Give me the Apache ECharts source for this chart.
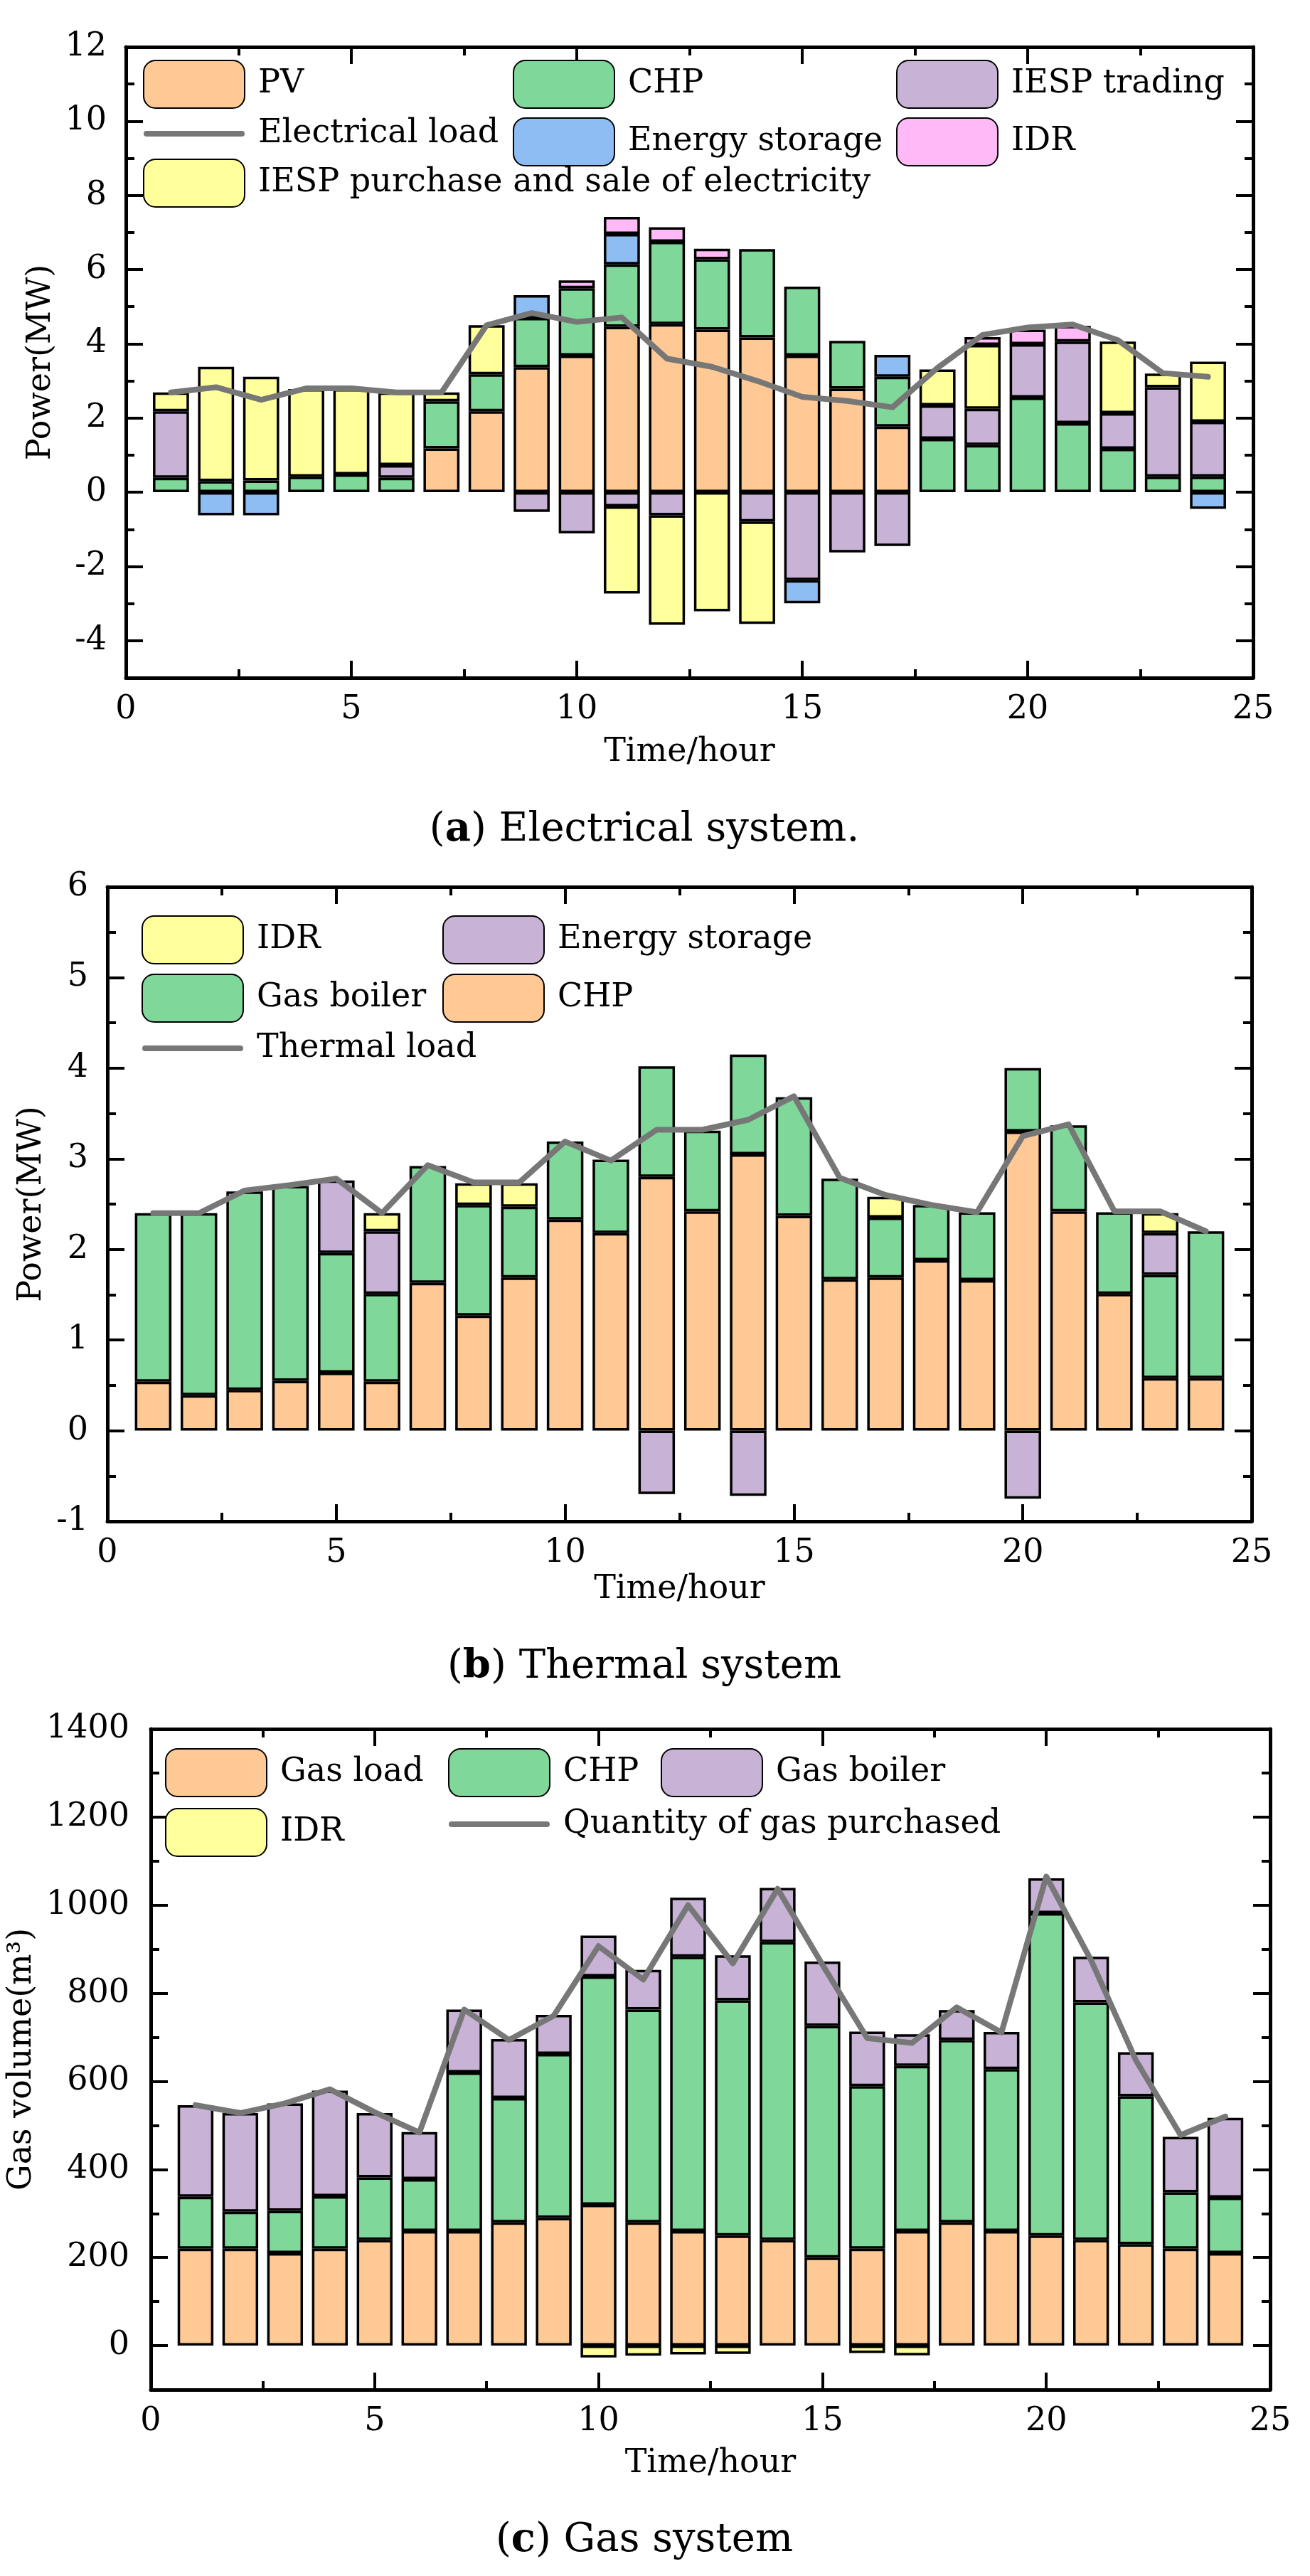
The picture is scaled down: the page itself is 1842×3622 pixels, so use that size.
<!DOCTYPE html>
<html>
<head>
<meta charset="utf-8">
<script src="https://cdn.jsdelivr.net/npm/echarts@6/dist/echarts.min.js"></script>
<style>
html, body { margin: 0; padding: 0; background: #fff; }
#wrap { position: relative; width: 1842px; height: 3622px; }
.panel { position: absolute; left: 0; width: 1842px; }
</style>
</head>
<body>
<div id="wrap">
  <div id="chartA" class="panel" style="top:0;height:1215px"></div>
  <div id="chartB" class="panel" style="top:1215px;height:1185px"></div>
  <div id="chartC" class="panel" style="top:2400px;height:1222px"></div>
</div>
<script>
var FONT = 'DejaVu Serif';

// hours on the x axis
var hours = [1, 2, 3, 4, 5, 6, 7, 8, 9, 10, 11, 12, 13, 14, 15, 16, 17, 18, 19, 20, 21, 22, 23, 24];

// (a) electrical system, MW
var elecPV       = [0, 0, 0, 0, 0, 0, 1.18, 2.18, 3.37, 3.68, 4.46, 4.53, 4.38, 4.17, 3.68, 2.79, 1.77, 0, 0, 0, 0, 0, 0, 0];
var elecCHP      = [0.39, 0.30, 0.32, 0.42, 0.48, 0.39, 1.27, 1.00, 1.33, 1.82, 1.68, 2.22, 1.90, 2.38, 1.86, 1.29, 1.34, 1.44, 1.27, 2.55, 1.86, 1.17, 0.42, 0.42];
var elecStorage  = [0, -0.62, -0.62, 0, 0, 0, 0, 0, 0.61, 0, 0.82, 0, 0, 0, -0.62, 0, 0.59, 0, 0, 0, 0, 0, 0, -0.45];
var elecTrading  = [1.79, 0, 0, 0, 0, 0.34, 0, 0, -0.53, -1.11, -0.38, -0.62, 0, -0.79, -2.37, -1.62, -1.45, 0.90, 0.98, 1.44, 2.20, 0.96, 2.41, 1.48];
var elecPurchase = [0.51, 3.08, 2.79, 2.36, 2.30, 1.96, 0.24, 1.32, 0, 0, -2.35, -2.95, -3.21, -2.76, 0, 0, 0, 0.97, 1.72, 0, 0, 1.93, 0.37, 1.62];
var elecIDR      = [0, 0, 0, 0, 0, 0, 0, 0, 0, 0.21, 0.46, 0.39, 0.28, 0, 0, 0, 0, 0, 0.21, 0.39, 0.42, 0, 0, 0];
var elecLoad     = [2.69, 2.83, 2.49, 2.80, 2.80, 2.69, 2.69, 4.50, 4.83, 4.59, 4.71, 3.60, 3.38, 3.00, 2.57, 2.46, 2.29, 3.35, 4.24, 4.44, 4.52, 4.10, 3.21, 3.11];

// (b) thermal system, MW
var heatCHP     = [0.54, 0.39, 0.45, 0.55, 0.64, 0.54, 1.63, 1.27, 1.69, 2.33, 2.18, 2.80, 2.42, 3.05, 2.37, 1.67, 1.69, 1.88, 1.66, 3.30, 2.42, 1.51, 0.58, 0.58];
var heatBoiler  = [1.86, 2.01, 2.19, 2.15, 1.32, 0.97, 1.29, 1.22, 0.78, 0.86, 0.81, 1.22, 0.89, 1.10, 1.31, 1.11, 0.66, 0.61, 0.75, 0.70, 0.95, 0.90, 1.14, 1.62];
var heatStorage = [0, 0, 0, 0, 0.80, 0.69, 0, 0, 0, 0, 0, -0.70, 0, -0.72, 0, 0, 0, 0, 0, -0.75, 0, 0, 0.46, 0];
var heatIDR     = [0, 0, 0, 0, 0, 0.20, 0, 0.24, 0.26, 0, 0, 0, 0, 0, 0, 0, 0.23, 0, 0, 0, 0, 0, 0.22, 0];
var heatLoad    = [2.40, 2.40, 2.65, 2.71, 2.78, 2.40, 2.93, 2.74, 2.74, 3.19, 2.98, 3.32, 3.32, 3.43, 3.69, 2.79, 2.60, 2.49, 2.41, 3.25, 3.38, 2.42, 2.42, 2.20];

// (c) gas system, m3
var gasLoad      = [220, 220, 210, 220, 240, 260, 260, 280, 290, 320, 280, 260, 250, 240, 200, 220, 260, 280, 260, 250, 240, 230, 220, 210];
var gasCHP       = [118, 84, 96, 119, 142, 118, 360, 282, 372, 518, 483, 623, 534, 676, 526, 369, 375, 414, 368, 732, 539, 336, 128, 126];
var gasBoiler    = [208, 224, 244, 240, 146, 107, 143, 134, 89, 93, 90, 134, 102, 123, 146, 124, 72, 68, 84, 79, 104, 100, 126, 181];
var gasIDR       = [0, 0, 0, 0, 0, 0, 0, 0, 0, -27, -23, -20, -19, 0, 0, -17, -22, 0, 0, 0, 0, 0, 0, 0];
var gasPurchased = [546, 528, 550, 582, 530, 484, 763, 694, 749, 907, 831, 1000, 868, 1037, 865, 698, 687, 768, 711, 1065, 875, 648, 478, 520];

var C_ORANGE = '#FFC996', C_GREEN = '#7FD89A', C_BLUE = '#8DBDF3', C_PURPLE = '#C8B3D6',
    C_PINK = '#FEB9F6', C_YELLOW = '#FFFF9B', C_LINE = '#777777';

// category slots 0..25 so that hour h sits at h/25 of the plot width
var xCats = [0].concat(hours).concat([25]);

function pad(vals, dropZero) {
  var out = ['-'];
  vals.forEach(function (v) { out.push(dropZero && v === 0 ? '-' : v); });
  out.push('-');
  return out;
}
function onlyPos(vals) { return vals.map(function (v) { return v > 0 ? v : 0; }); }
function onlyNeg(vals) { return vals.map(function (v) { return v < 0 ? v : 0; }); }

function bar(name, vals, color) {
  return {
    type: 'bar', name: name, stack: 'total', xAxisIndex: 0, yAxisIndex: 0,
    barWidth: '80%', data: pad(vals, true),
    itemStyle: { color: color, borderColor: '#000', borderWidth: 3.5 },
    emphasis: { disabled: true }
  };
}
function loadLine(name, vals) {
  return {
    type: 'line', name: name, xAxisIndex: 0, yAxisIndex: 0, data: pad(vals, false),
    symbol: 'none', z: 5,
    lineStyle: { color: C_LINE, width: 8, cap: 'round', join: 'round' },
    itemStyle: { color: C_LINE },
    emphasis: { disabled: true }
  };
}

var TICK = { color: '#000', width: 4 };
var TXT = { fontFamily: FONT, fontSize: 46, color: '#000' };

function xAxes(nameGap) {
  function val(pos, withLabel) {
    var a = {
      type: 'value', position: pos, min: 0, max: 25, interval: 5,
      splitLine: { show: false },
      axisLine: { show: true, onZero: false, lineStyle: { color: '#000', width: 5 } },
      axisTick: { show: true, inside: true, length: 24, lineStyle: TICK },
      minorTick: { show: true, splitNumber: 2, length: 12, lineStyle: TICK },
      axisLabel: { show: withLabel, margin: 22, fontFamily: FONT, fontSize: 46, color: '#000' }
    };
    if (withLabel) {
      a.name = 'Time/hour';
      a.nameLocation = 'middle';
      a.nameGap = nameGap;
      a.nameTextStyle = TXT;
    }
    return a;
  }
  return [
    { type: 'category', data: xCats, boundaryGap: false, show: false },
    val('bottom', true),
    val('top', false)
  ];
}

function yAxes(o) {
  var majors = [];
  for (var v = o.firstMajor; v <= o.max; v += o.labelStep) majors.push(v);
  var split = o.labelStep === o.step;
  function side(pos, withLabel) {
    var a = {
      type: 'value', position: pos, min: o.min, max: o.max, interval: o.step,
      splitLine: { show: false },
      axisLine: { show: true, onZero: false, lineStyle: { color: '#000', width: 5 } },
      axisTick: { show: true, inside: true, length: split ? 24 : 12, lineStyle: TICK },
      minorTick: { show: split, splitNumber: 2, length: 12, lineStyle: TICK },
      axisLabel: {
        show: withLabel, margin: o.labelMargin, fontFamily: FONT, fontSize: 46, color: '#000',
        formatter: function (val) { return majors.indexOf(val) >= 0 ? String(val) : ''; }
      }
    };
    if (withLabel) {
      a.name = o.name;
      a.nameLocation = 'middle';
      a.nameGap = o.nameGap;
      a.nameTextStyle = TXT;
    }
    return a;
  }
  function overlay(pos) {
    return {
      type: 'value', position: pos, min: o.min, max: o.max, interval: o.step,
      splitLine: { show: false },
      axisLine: { show: false, onZero: false },
      axisLabel: { show: false },
      axisTick: { show: true, inside: true, length: 24, customValues: majors, lineStyle: TICK }
    };
  }
  var list = [side('left', true), side('right', false)];
  if (!split) list.push(overlay('left'), overlay('right'));
  return list;
}

// thick grey bar with round ends, used as the legend key of the load lines
var LINE_ICON = 'path://M4,0 L138,0 A4,4 0 0 1 138,8 L4,8 A4,4 0 0 1 4,0 Z';
function lineKey(name) {
  return { name: name, icon: LINE_ICON, itemStyle: { color: C_LINE, borderWidth: 0 } };
}

function legendCol(names, left, top, gap) {
  return {
    orient: 'vertical', left: left, top: top, padding: 0, itemGap: gap,
    itemWidth: 142, itemHeight: 67, selectedMode: false, data: names,
    textStyle: { fontFamily: FONT, fontSize: 46, color: '#000', padding: [0, 0, 0, 14] }
  };
}

function caption(letter, rest, top) {
  return {
    text: '({b|' + letter + '}) ' + rest, left: 906, top: top, textAlign: 'center', padding: 0,
    textStyle: {
      fontFamily: FONT, fontSize: 56, fontWeight: 'normal', color: '#000',
      rich: { b: { fontFamily: FONT, fontSize: 56, fontWeight: 'bold', color: '#000' } }
    }
  };
}

// ---- (a) Electrical system
var optionA = {
  animation: false,
  backgroundColor: '#fff',
  title: caption('a', 'Electrical system.', 1139),
  grid: { left: 177, top: 66, width: 1585, height: 887 },
  legend: [
    legendCol(['PV', lineKey('Electrical load'), 'IESP purchase and sale of electricity'], 201, 84, 12),
    legendCol(['CHP', 'Energy storage'], 721, 84, 12),
    legendCol(['IESP trading', 'IDR'], 1260, 84, 12)
  ],
  xAxis: xAxes(82),
  yAxis: yAxes({ min: -5, max: 12, step: 1, labelStep: 2, firstMajor: -4, labelMargin: 27, name: 'Power(MW)', nameGap: 87 }),
  series: [
    bar('PV', elecPV, C_ORANGE),
    bar('CHP', elecCHP, C_GREEN),
    bar('Energy storage', onlyPos(elecStorage), C_BLUE),
    bar('IESP trading', elecTrading, C_PURPLE),
    bar('IESP purchase and sale of electricity', elecPurchase, C_YELLOW),
    bar('IDR', elecIDR, C_PINK),
    bar('Energy storage', onlyNeg(elecStorage), C_BLUE),
    loadLine('Electrical load', elecLoad)
  ]
};

// ---- (b) Thermal system
var optionB = {
  animation: false,
  backgroundColor: '#fff',
  title: caption('b', 'Thermal system', 1101),
  grid: { left: 151, top: 32, width: 1609, height: 892 },
  legend: [
    legendCol(['IDR', 'Gas boiler', lineKey('Thermal load')], 199, 72, 13),
    legendCol(['Energy storage', 'CHP'], 622, 72, 13)
  ],
  xAxis: xAxes(70),
  yAxis: yAxes({ min: -1, max: 6, step: 1, labelStep: 1, firstMajor: -1, labelMargin: 27, name: 'Power(MW)', nameGap: 48 }),
  series: [
    bar('CHP', heatCHP, C_ORANGE),
    bar('Gas boiler', heatBoiler, C_GREEN),
    bar('Energy storage', heatStorage, C_PURPLE),
    bar('IDR', heatIDR, C_YELLOW),
    loadLine('Thermal load', heatLoad)
  ]
};

// ---- (c) Gas system
var optionC = {
  animation: false,
  backgroundColor: '#fff',
  title: caption('c', 'Gas system', 1144),
  grid: { left: 203, top: 31, width: 1583, height: 929 },
  legend: [
    legendCol(['Gas load', 'IDR'], 232, 58, 15),
    legendCol(['CHP', lineKey('Quantity of gas purchased')], 630, 58, 15),
    legendCol(['Gas boiler'], 929, 58, 15)
  ],
  xAxis: xAxes(81),
  yAxis: yAxes({ min: -100, max: 1400, step: 100, labelStep: 200, firstMajor: 0, labelMargin: 30, name: 'Gas volume(m³)', nameGap: 139 }),
  series: [
    bar('Gas load', gasLoad, C_ORANGE),
    bar('CHP', gasCHP, C_GREEN),
    bar('Gas boiler', gasBoiler, C_PURPLE),
    bar('IDR', gasIDR, C_YELLOW),
    loadLine('Quantity of gas purchased', gasPurchased)
  ]
};

echarts.init(document.getElementById('chartA')).setOption(optionA);
echarts.init(document.getElementById('chartB')).setOption(optionB);
echarts.init(document.getElementById('chartC')).setOption(optionC);
</script>
</body>
</html>
